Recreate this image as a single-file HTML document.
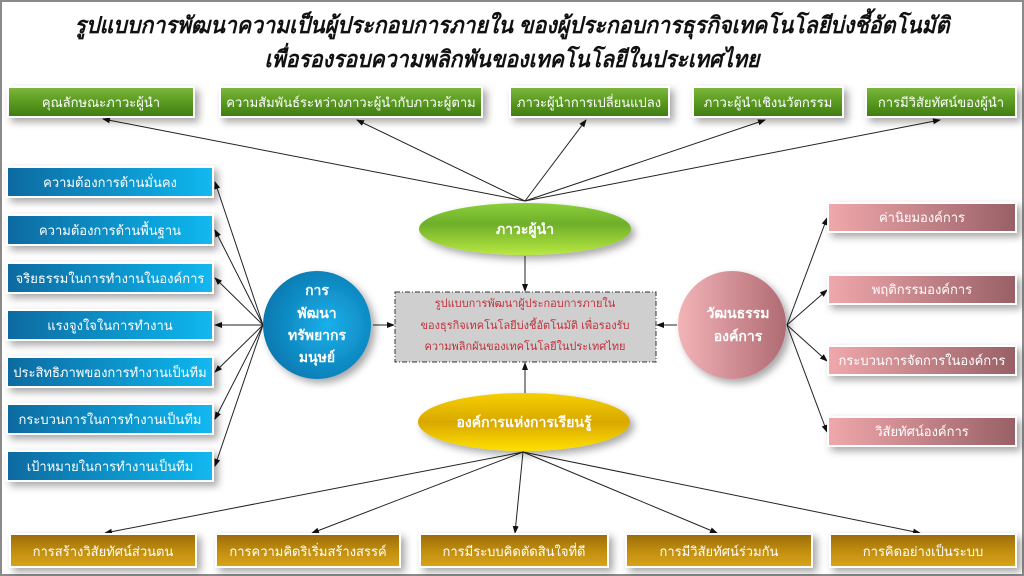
<!DOCTYPE html>
<html><head><meta charset="utf-8"><style>
html,body{margin:0;padding:0;background:#fff}
svg{display:block}
text{font-family:"Liberation Sans","Noto Sans CJK SC",sans-serif}
</style></head><body>
<svg width="1024" height="576" viewBox="0 0 1024 576" xmlns="http://www.w3.org/2000/svg">
<defs>
<marker id="ah" markerWidth="8" markerHeight="8" refX="7" refY="4" orient="auto" markerUnits="userSpaceOnUse"><path d="M0,1 L8,4 L0,7 z" fill="#111"/></marker>
<linearGradient id="gG" x1="0" y1="0" x2="0" y2="1"><stop offset="0" stop-color="#7cb83a"/><stop offset="0.5" stop-color="#5a9a22"/><stop offset="1" stop-color="#3f7a12"/></linearGradient>
<linearGradient id="gB" x1="0" y1="0" x2="1" y2="0"><stop offset="0" stop-color="#0a6aa0"/><stop offset="1" stop-color="#12b8f0"/></linearGradient>
<linearGradient id="gP" x1="0" y1="0" x2="1" y2="0"><stop offset="0" stop-color="#f0a8ac"/><stop offset="1" stop-color="#986066"/></linearGradient>
<linearGradient id="gY" x1="0" y1="0" x2="0" y2="1"><stop offset="0" stop-color="#9a6a08"/><stop offset="0.5" stop-color="#c08d10"/><stop offset="1" stop-color="#d9a418"/></linearGradient>
<linearGradient id="eG" x1="0" y1="0" x2="0" y2="1"><stop offset="0" stop-color="#8ccf3a"/><stop offset="0.4" stop-color="#6eaf2a"/><stop offset="1" stop-color="#b8e840"/></linearGradient>
<linearGradient id="eY" x1="0" y1="0" x2="0" y2="1"><stop offset="0" stop-color="#f5d000"/><stop offset="0.5" stop-color="#d9a800"/><stop offset="1" stop-color="#ffe000"/></linearGradient>
<radialGradient id="cB" cx="0.6" cy="0.5" r="0.6"><stop offset="0" stop-color="#1ab0ea"/><stop offset="1" stop-color="#0a78b0"/></radialGradient>
<linearGradient id="cP" x1="0" y1="0" x2="1" y2="0"><stop offset="0" stop-color="#f2b4b8"/><stop offset="1" stop-color="#b06a72"/></linearGradient>
<filter id="sh" x="-20%" y="-20%" width="150%" height="160%"><feDropShadow dx="4" dy="4" stdDeviation="4" flood-color="#000" flood-opacity="0.35"/></filter>
</defs>
<rect x="1" y="1" width="1022" height="574" fill="#fff" stroke="#8a8a8a" stroke-width="2"/>
<text x="512" y="33" text-anchor="middle" font-size="23" font-style="italic" font-weight="bold" fill="#111" textLength="875" lengthAdjust="spacingAndGlyphs">รูปแบบการพัฒนาความเป็นผู้ประกอบการภายใน ของผู้ประกอบการธุรกิจเทคโนโลยีบ่งชี้อัตโนมัติ</text>
<text x="512" y="67" text-anchor="middle" font-size="23" font-style="italic" font-weight="bold" fill="#111" textLength="495" lengthAdjust="spacingAndGlyphs">เพื่อรองรอบความพลิกพันของเทคโนโลยีในประเทศไทย</text>

<g stroke="#222" stroke-width="1" fill="none" marker-end="url(#ah)">
<line x1="525" y1="201" x2="103" y2="119"/>
<line x1="525" y1="201" x2="357" y2="120"/>
<line x1="525" y1="201" x2="586" y2="120"/>
<line x1="525" y1="201" x2="765" y2="120"/>
<line x1="525" y1="201" x2="940" y2="120"/>
<line x1="263" y1="325" x2="215" y2="182"/>
<line x1="263" y1="325" x2="215" y2="230"/>
<line x1="263" y1="325" x2="215" y2="278"/>
<line x1="263" y1="325" x2="215" y2="325"/>
<line x1="263" y1="325" x2="215" y2="372"/>
<line x1="263" y1="325" x2="215" y2="419"/>
<line x1="263" y1="325" x2="215" y2="466"/>
<line x1="787" y1="325" x2="827" y2="218"/>
<line x1="787" y1="325" x2="827" y2="290"/>
<line x1="787" y1="325" x2="827" y2="361"/>
<line x1="787" y1="325" x2="827" y2="432"/>
<line x1="523" y1="452" x2="105" y2="533"/>
<line x1="523" y1="452" x2="312" y2="533"/>
<line x1="523" y1="452" x2="515" y2="533"/>
<line x1="523" y1="452" x2="717" y2="533"/>
<line x1="523" y1="452" x2="920" y2="533"/>
<line x1="525" y1="256" x2="525" y2="291"/>
<line x1="525" y1="393" x2="525" y2="363"/>
<line x1="373" y1="325" x2="394" y2="325"/>
<line x1="677" y1="325" x2="657" y2="325"/>
</g>

<g font-size="13" fill="#fff" text-anchor="middle">
<g filter="url(#sh)" stroke="#fff" stroke-width="2">
<rect x="8" y="87" width="186" height="30" fill="url(#gG)"/>
<rect x="220" y="87" width="262" height="30" fill="url(#gG)"/>
<rect x="510" y="87" width="159" height="30" fill="url(#gG)"/>
<rect x="693" y="87" width="150" height="30" fill="url(#gG)"/>
<rect x="866" y="87" width="150" height="30" fill="url(#gG)"/>
<rect x="7" y="167" width="206" height="30" fill="url(#gB)"/>
<rect x="7" y="215" width="206" height="30" fill="url(#gB)"/>
<rect x="7" y="263" width="206" height="30" fill="url(#gB)"/>
<rect x="7" y="310" width="206" height="30" fill="url(#gB)"/>
<rect x="7" y="357" width="206" height="30" fill="url(#gB)"/>
<rect x="7" y="404" width="206" height="30" fill="url(#gB)"/>
<rect x="7" y="451" width="206" height="30" fill="url(#gB)"/>
<rect x="828" y="203" width="188" height="29" fill="url(#gP)"/>
<rect x="828" y="275" width="188" height="29" fill="url(#gP)"/>
<rect x="828" y="346" width="188" height="29" fill="url(#gP)"/>
<rect x="828" y="417" width="188" height="29" fill="url(#gP)"/>
<rect x="10" y="534" width="186" height="33" fill="url(#gY)"/>
<rect x="216" y="534" width="184" height="33" fill="url(#gY)"/>
<rect x="420" y="534" width="188" height="33" fill="url(#gY)"/>
<rect x="626" y="534" width="186" height="33" fill="url(#gY)"/>
<rect x="830" y="534" width="186" height="33" fill="url(#gY)"/>
</g>
<text x="101" y="107">คุณลักษณะภาวะผู้นำ</text>
<text x="351" y="107">ความสัมพันธ์ระหว่างภาวะผู้นำกับภาวะผู้ตาม</text>
<text x="589" y="107">ภาวะผู้นำการเปลี่ยนแปลง</text>
<text x="768" y="107">ภาวะผู้นำเชิงนวัตกรรม</text>
<text x="941" y="107">การมีวิสัยทัศน์ของผู้นำ</text>
<text x="110" y="187">ความต้องการด้านมั่นคง</text>
<text x="110" y="235">ความต้องการด้านพื้นฐาน</text>
<text x="110" y="283">จริยธรรมในการทำงานในองค์การ</text>
<text x="110" y="330">แรงจูงใจในการทำงาน</text>
<text x="110" y="377">ประสิทธิภาพของการทำงานเป็นทีม</text>
<text x="110" y="424">กระบวนการในการทำงานเป็นทีม</text>
<text x="110" y="471">เป้าหมายในการทำงานเป็นทีม</text>
<text x="922" y="222">ค่านิยมองค์การ</text>
<text x="922" y="294">พฤติกรรมองค์การ</text>
<text x="922" y="365">กระบวนการจัดการในองค์การ</text>
<text x="922" y="436">วิสัยทัศน์องค์การ</text>
<text x="103" y="556">การสร้างวิสัยทัศน์ส่วนตน</text>
<text x="308" y="556">การความคิดริเริ่มสร้างสรรค์</text>
<text x="514" y="556">การมีระบบคิดตัดสินใจที่ดี</text>
<text x="719" y="556">การมีวิสัยทัศน์ร่วมกัน</text>
<text x="923" y="556">การคิดอย่างเป็นระบบ</text>
</g>

<g filter="url(#sh)">
<ellipse cx="525" cy="229" rx="106" ry="26" fill="url(#eG)"/>
<ellipse cx="524" cy="422" rx="106" ry="29" fill="url(#eY)"/>
<circle cx="317" cy="325" r="54" fill="url(#cB)"/>
<circle cx="732" cy="325" r="54" fill="url(#cP)"/>
</g>
<rect x="395" y="292" width="261" height="70" fill="#d0cfd0" stroke="#333" stroke-width="1" stroke-dasharray="5,2,1,2"/>
<g text-anchor="middle" font-weight="bold" fill="#fff" font-size="14">
<text x="525" y="234">ภาวะผู้นำ</text>
<text x="524" y="427">องค์การแห่งการเรียนรู้</text>
<text x="317" y="295">การ</text>
<text x="317" y="318">พัฒนา</text>
<text x="317" y="340">ทรัพยากร</text>
<text x="317" y="362">มนุษย์</text>
<text x="738" y="318">วัฒนธรรม</text>
<text x="738" y="341">องค์การ</text>
</g>
<g text-anchor="middle" fill="#c0303a" font-size="11">
<text x="525" y="307">รูปแบบการพัฒนาผู้ประกอบการภายใน</text>
<text x="525" y="329">ของธุรกิจเทคโนโลยีบ่งชี้อัตโนมัติ  เพื่อรองรับ</text>
<text x="525" y="350">ความพลิกผันของเทคโนโลยีในประเทศไทย</text>
</g>
</svg>
</body></html>
